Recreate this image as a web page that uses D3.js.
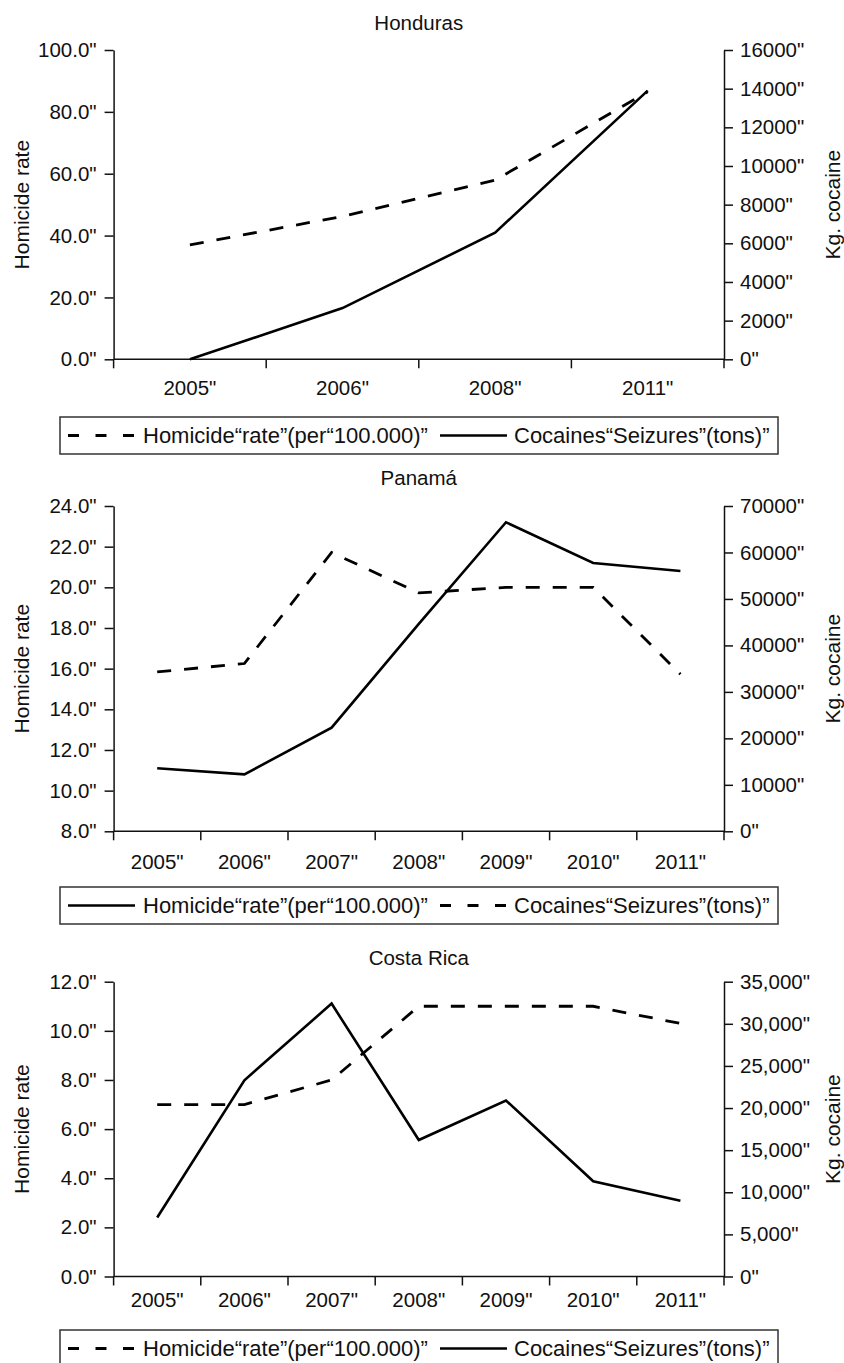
<!DOCTYPE html>
<html>
<head>
<meta charset="utf-8">
<script src="https://cdn.jsdelivr.net/npm/d3@7"></script>
<style>
  html, body { margin: 0; padding: 0; background: #fff; }
  svg { display: block; }
  text { font-family: "Liberation Sans", Arial, Helvetica, sans-serif; fill: #111; }
</style>
</head>
<body>
<svg id="chart" width="844" height="1363"></svg>
<script>
// ---- Honduras ----
const hondurasYears = ["2005", "2006", "2008", "2011"];
const hondurasHomicide = [37.0, 46.2, 57.9, 86.5];       // per 100,000
const hondurasCocaine = [0, 2650, 6550, 13900];           // kg
const hondurasLeftTicks = [0, 20, 40, 60, 80, 100];
const hondurasRightTicks = [0, 2000, 4000, 6000, 8000, 10000, 12000, 14000, 16000];

// ---- Panamá ----
const panamaYears = ["2005", "2006", "2007", "2008", "2009", "2010", "2011"];
const panamaHomicide = [11.1, 10.8, 13.1, 18.2, 23.2, 21.2, 20.8];
const panamaCocaine = [34300, 36100, 60000, 51300, 52500, 52500, 33800];
const panamaLeftTicks = [8, 10, 12, 14, 16, 18, 20, 22, 24];
const panamaRightTicks = [0, 10000, 20000, 30000, 40000, 50000, 60000, 70000];

// ---- Costa Rica ----
const costaRicaYears = ["2005", "2006", "2007", "2008", "2009", "2010", "2011"];
const costaRicaHomicide = [7.0, 7.0, 8.0, 11.0, 11.0, 11.0, 10.3];
const costaRicaCocaine = [7000, 23300, 32400, 16200, 20900, 11300, 9000];
const costaRicaLeftTicks = [0, 2, 4, 6, 8, 10, 12];
const costaRicaRightTicks = [0, 5000, 10000, 15000, 20000, 25000, 30000, 35000];

// Legend labels and axis titles
const homicideLabel = "Homicide“rate”(per“100.000)”";
const cocaineLabel = "Cocaines“Seizures”(tons)”";
const leftTitle = "Homicide rate";
const rightTitle = "Kg. cocaine";

const X0 = 113.6, X1 = 724;
const DASH = "14,13";
const LEGEND_DASH = "11,16.5";

const plain = d => d + '"';
const commas = d => d3.format(",")(d) + '"';

const panels = [
  {
    title: "Honduras", years: hondurasYears,
    homicide: hondurasHomicide, cocaine: hondurasCocaine,
    leftDomain: [0, 100], rightDomain: [0, 16000],
    leftTicks: hondurasLeftTicks, rightTicks: hondurasRightTicks, rightFormat: plain,
    homicideDashed: true,
    titleY: 22, top: 50, bottom: 359.3, yearY: 387, legendTop: 417
  },
  {
    title: "Panamá", years: panamaYears,
    homicide: panamaHomicide, cocaine: panamaCocaine,
    leftDomain: [8, 24], rightDomain: [0, 70000],
    leftTicks: panamaLeftTicks, rightTicks: panamaRightTicks, rightFormat: plain,
    homicideDashed: false,
    titleY: 477, top: 506, bottom: 831.3, yearY: 861.5, legendTop: 887
  },
  {
    title: "Costa Rica", years: costaRicaYears,
    homicide: costaRicaHomicide, cocaine: costaRicaCocaine,
    leftDomain: [0, 12], rightDomain: [0, 35000],
    leftTicks: costaRicaLeftTicks, rightTicks: costaRicaRightTicks, rightFormat: commas,
    homicideDashed: true,
    titleY: 957.5, top: 981.7, bottom: 1276.5, yearY: 1299.5, legendTop: 1330
  }
];

const svg = d3.select("#chart");
svg.append("rect").attr("width", 844).attr("height", 1363).attr("fill", "#fff");

function styleAxis(g) {
  g.attr("font-family", null).attr("font-size", null);
  g.selectAll("path.domain").attr("stroke", "#111").attr("stroke-width", 1.5);
  g.selectAll(".tick line").attr("stroke", "#111").attr("stroke-width", 1.5);
  g.selectAll(".tick text").attr("font-size", 20.5).attr("fill", "#111");
}

function drawPanel(p) {
  const g = svg.append("g");
  const x = d3.scaleBand().domain(p.years).range([X0, X1]);
  const yL = d3.scaleLinear().domain(p.leftDomain).range([p.bottom, p.top]);
  const yR = d3.scaleLinear().domain(p.rightDomain).range([p.bottom, p.top]);
  const cx = d => x(d) + x.bandwidth() / 2;
  const midY = (p.top + p.bottom) / 2;

  // title
  g.append("text")
    .attr("x", (X0 + X1) / 2).attr("y", p.titleY)
    .attr("text-anchor", "middle").attr("dominant-baseline", "central")
    .attr("font-size", 20.5)
    .text(p.title);

  // left axis
  g.append("g").attr("transform", `translate(${X0},0)`)
    .call(d3.axisLeft(yL).tickValues(p.leftTicks)
      .tickFormat(d => d.toFixed(1) + '"')
      .tickSize(9).tickSizeOuter(0).tickPadding(8))
    .call(styleAxis);

  // right axis
  g.append("g").attr("transform", `translate(${X1},0)`)
    .call(d3.axisRight(yR).tickValues(p.rightTicks)
      .tickFormat(p.rightFormat)
      .tickSize(9).tickSizeOuter(0).tickPadding(7))
    .call(styleAxis);

  // category axis: baseline with tick marks between categories
  const bounds = p.years.map(d => x(d)).concat([X1]);
  g.append("line")
    .attr("x1", X0).attr("x2", X1).attr("y1", p.bottom).attr("y2", p.bottom)
    .attr("stroke", "#111").attr("stroke-width", 1.5);
  g.selectAll("line.bound").data(bounds).join("line")
    .attr("class", "bound")
    .attr("x1", d => d).attr("x2", d => d)
    .attr("y1", p.bottom).attr("y2", p.bottom + 9)
    .attr("stroke", "#111").attr("stroke-width", 1.5);
  g.selectAll("text.year").data(p.years).join("text")
    .attr("class", "year")
    .attr("x", cx).attr("y", p.yearY)
    .attr("text-anchor", "middle").attr("dominant-baseline", "central")
    .attr("font-size", 20.5)
    .text(d => d + '"');

  // axis titles
  g.append("text")
    .attr("transform", `translate(21,${midY}) rotate(-90)`)
    .attr("text-anchor", "middle").attr("dominant-baseline", "central")
    .attr("font-size", 21)
    .text(leftTitle);
  g.append("text")
    .attr("transform", `translate(832,${midY}) rotate(-90)`)
    .attr("text-anchor", "middle").attr("dominant-baseline", "central")
    .attr("font-size", 21)
    .text(rightTitle);

  // series
  const lineL = d3.line().x((d, i) => cx(p.years[i])).y(d => yL(d));
  const lineR = d3.line().x((d, i) => cx(p.years[i])).y(d => yR(d));

  g.append("path").datum(p.cocaine)
    .attr("d", lineR).attr("fill", "none")
    .attr("stroke", "#000")
    .attr("stroke-width", p.homicideDashed ? 2.6 : 2.8)
    .attr("stroke-dasharray", p.homicideDashed ? null : DASH)
    .attr("stroke-linejoin", "miter");
  g.append("path").datum(p.homicide)
    .attr("d", lineL).attr("fill", "none")
    .attr("stroke", "#000")
    .attr("stroke-width", p.homicideDashed ? 2.8 : 2.6)
    .attr("stroke-dasharray", p.homicideDashed ? DASH : null)
    .attr("stroke-linejoin", "miter");

  // legend
  const lt = p.legendTop, lc = lt + 18.5;
  const lg = g.append("g");
  lg.append("rect")
    .attr("x", 60).attr("y", lt).attr("width", 718).attr("height", 37)
    .attr("fill", "none").attr("stroke", "#333").attr("stroke-width", 1.5);
  const items = [
    { label: homicideLabel, dashed: p.homicideDashed, sx: 68, tx: 143 },
    { label: cocaineLabel, dashed: !p.homicideDashed, sx: 440, tx: 514 }
  ];
  lg.selectAll("line.sample").data(items).join("line")
    .attr("class", "sample")
    .attr("x1", d => d.sx).attr("x2", d => d.sx + 67)
    .attr("y1", lc).attr("y2", lc)
    .attr("stroke", "#000").attr("stroke-width", d => d.dashed ? 3 : 2.6)
    .attr("stroke-dasharray", d => d.dashed ? LEGEND_DASH : null);
  lg.selectAll("text.ltext").data(items).join("text")
    .attr("class", "ltext")
    .attr("x", d => d.tx).attr("y", lc)
    .attr("dominant-baseline", "central")
    .attr("font-size", 22)
    .text(d => d.label);
}

panels.forEach(drawPanel);
</script>
</body>
</html>
